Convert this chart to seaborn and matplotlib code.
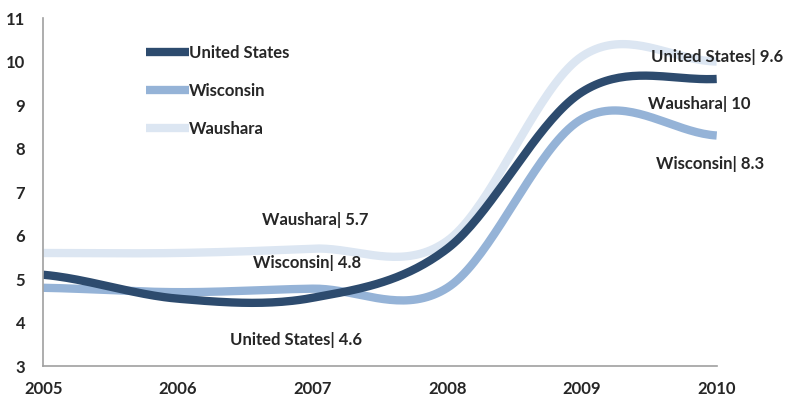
import numpy as np
import pandas as pd
import matplotlib
matplotlib.use("Agg")
import matplotlib.pyplot as plt
import seaborn as sns

years = [2005, 2006, 2007, 2008, 2009, 2010]
us = [5.1, 4.55, 4.57, 5.7, 9.3, 9.6]
wisconsin = [4.8, 4.7, 4.78, 4.8, 8.68, 8.3]
waushara = [5.6, 5.6, 5.7, 5.88, 10.12, 10.0]

series_names = ["United States", "Wisconsin", "Waushara"]
colors = ["#2D4B6E", "#95B3D7", "#DCE6F2"]

# labels: (text, x, y)
notes = [
    ("United States| 9.6", 2010.0, 10.1),
    ("Waushara| 10", 2009.87, 9.02),
    ("Wisconsin| 8.3", 2009.95, 7.64),
    ("Waushara| 5.7", 2007.02, 6.36),
    ("Wisconsin| 4.8", 2006.96, 5.37),
    ("United States| 4.6", 2006.88, 3.6),
]


def smooth(xs, ys, n=40):
    '''Catmull-Rom curve through the points, like the Excel smoothed line.'''
    xs = np.asarray(xs, float)
    ys = np.asarray(ys, float)
    px = np.concatenate([[2 * xs[0] - xs[1]], xs, [2 * xs[-1] - xs[-2]]])
    py = np.concatenate([[ys[0]], ys, [ys[-1]]])
    out_x, out_y = [], []
    for i in range(1, len(px) - 2):
        t = np.linspace(0, 1, n, endpoint=False)
        for arr, out in ((px, out_x), (py, out_y)):
            p0, p1, p2, p3 = arr[i - 1], arr[i], arr[i + 1], arr[i + 2]
            out.extend(0.5 * ((2 * p1) + (-p0 + p2) * t
                              + (2 * p0 - 5 * p1 + 4 * p2 - p3) * t ** 2
                              + (-p0 + 3 * p1 - 3 * p2 + p3) * t ** 3))
    out_x.append(xs[-1])
    out_y.append(ys[-1])
    return out_x, out_y


frames = []
for name, vals in zip(series_names, [us, wisconsin, waushara]):
    sx, sy = smooth(years, vals)
    frames.append(pd.DataFrame({"year": sx, "rate": sy, "area": name}))
df = pd.concat(frames)

sns.set_style("white")
plt.rcParams["font.family"] = ["Lato", "DejaVu Sans"]

fig = plt.figure(figsize=(7.85, 4.01), dpi=100)
ax = fig.add_axes([0.055, 0.087, 0.858, 0.868])

# draw in reverse so United States sits on top
for name, col in reversed(list(zip(series_names, colors))):
    sns.lineplot(data=df[df["area"] == name], x="year", y="rate", color=col,
                 linewidth=6, ax=ax, label=name, sort=False,
                 solid_capstyle="butt")

ax.set_xlim(2005, 2010)
ax.set_ylim(3, 11)
ax.set_xticks(years)
ax.set_yticks(range(3, 12))
ax.set_xlabel("")
ax.set_ylabel("")
for lab in ax.get_xticklabels() + ax.get_yticklabels():
    lab.set_fontweight("bold")
    lab.set_fontsize(12)
ax.tick_params(axis="x", direction="inout", length=12, color="#A0A0A0", pad=5)
ax.tick_params(axis="y", length=0, pad=13)
for s in ["top", "right"]:
    ax.spines[s].set_visible(False)
for s in ["left", "bottom"]:
    ax.spines[s].set_color("#A0A0A0")
    ax.spines[s].set_linewidth(1.2)

handles, labels = ax.get_legend_handles_labels()
order = [labels.index(n) for n in series_names]
ax.legend([handles[i] for i in order], [labels[i] for i in order],
          loc="upper left", bbox_to_anchor=(0.13, 0.965), frameon=False,
          handlelength=2.6, handletextpad=0.0, labelspacing=1.3,
          prop={"weight": "bold", "size": 12})

for txt, x, y in notes:
    ax.text(x, y, txt, ha="center", va="center", fontsize=12,
            fontweight="bold", clip_on=False)

fig.savefig("out.png", dpi=100)
